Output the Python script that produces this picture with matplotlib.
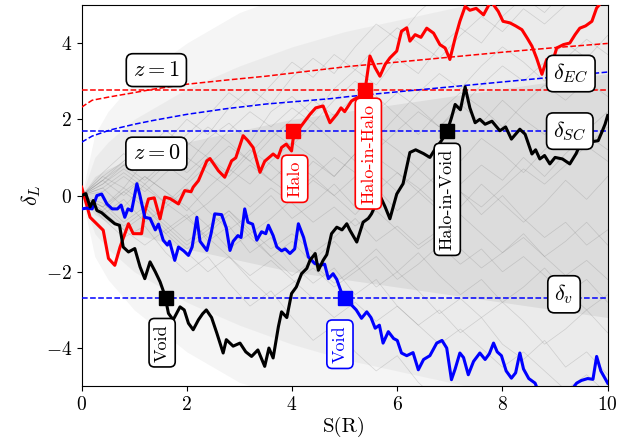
import numpy as np
import matplotlib.pyplot as plt

plt.rcParams['font.family'] = 'serif'
plt.rcParams['font.serif'] = ['cmr10', 'DejaVu Serif']
plt.rcParams['mathtext.fontset'] = 'cm'
plt.rcParams['axes.formatter.use_mathtext'] = True

# walk highlighted as "Halo" / "Halo-in-Halo"
s_red = [0.0, 0.16, 0.41, 0.51, 0.63, 0.73, 0.89, 0.98, 1.14, 1.2, 1.27, 1.38, 1.49, 1.58, 1.68,
         1.84, 1.96, 2.08, 2.12, 2.22, 2.38, 2.44, 2.6, 2.72, 2.85, 2.93, 3.07, 3.16, 3.26, 3.39,
         3.48, 3.64, 3.73, 3.8, 3.89, 3.99, 4.02, 4.15, 4.34, 4.45, 4.59, 4.72, 4.85, 4.93, 5.0,
         5.13, 5.24, 5.3, 5.39, 5.48, 5.58, 5.67, 5.77, 5.86, 5.99, 6.08, 6.18, 6.24, 6.34, 6.45,
         6.56, 6.69, 6.81, 6.91, 7.0, 7.1, 7.19, 7.29, 7.38, 7.5, 7.64, 7.78, 7.92, 8.01, 8.14,
         8.25, 8.37, 8.47, 8.56, 8.65, 8.71, 8.75, 8.84, 8.94, 9.03, 9.16, 9.28, 9.38, 9.47, 9.58,
         9.7, 9.79, 9.9, 10.0]
d_red = [0.22, -0.57, -0.91, -1.65, -1.83, -1.35, -0.74, -1.0, -1.0, -0.43, -0.09, -0.06, -0.61,
         -0.04, -0.08, -0.22, 0.13, 0.1, 0.22, 0.39, 0.91, 0.97, 0.65, 0.48, 0.91, 0.99, 1.57, 1.44,
         1.26, 0.61, 0.9, 1.09, 0.99, 1.26, 1.35, 1.17, 1.48, 1.78, 2.13, 2.3, 2.35, 1.91, 2.13,
         2.3, 2.2, 2.48, 2.57, 2.5, 2.79, 3.66, 3.35, 3.13, 3.44, 3.61, 3.79, 4.31, 4.4, 4.05, 4.22,
         4.15, 4.39, 4.26, 3.96, 3.87, 3.57, 4.13, 4.57, 4.96, 4.86, 4.91, 4.74, 5.1, 4.83, 4.57,
         4.53, 4.45, 4.35, 4.13, 3.92, 3.6, 3.35, 3.18, 3.57, 3.44, 3.87, 3.96, 4.0, 4.22, 4.39,
         4.45, 4.57, 4.92, 5.1, 5.2]

# walk highlighted as "Void" (black) / "Halo-in-Void"
s_black = [0.0, 0.08, 0.16, 0.22, 0.29, 0.38, 0.48, 0.63, 0.72, 0.79, 0.89, 1.01, 1.11, 1.2, 1.3,
           1.4, 1.49, 1.58, 1.65, 1.74, 1.87, 1.95, 2.03, 2.12, 2.22, 2.3, 2.37, 2.47, 2.57, 2.69,
           2.75, 2.88, 3.01, 3.12, 3.23, 3.35, 3.48, 3.56, 3.64, 3.74, 3.8, 3.9, 3.99, 4.08, 4.18,
           4.28, 4.34, 4.44, 4.5, 4.59, 4.66, 4.75, 4.85, 4.95, 5.04, 5.1, 5.23, 5.35, 5.45, 5.51,
           5.67, 5.77, 5.86, 5.99, 6.11, 6.24, 6.35, 6.5, 6.62, 6.72, 6.82, 6.94, 7.03, 7.1, 7.2,
           7.29, 7.38, 7.48, 7.57, 7.67, 7.8, 7.95, 8.06, 8.17, 8.33, 8.43, 8.56, 8.63, 8.71, 8.8,
           8.9, 9.0, 9.14, 9.28, 9.4, 9.51, 9.65, 9.82, 9.9, 9.95, 10.0]
d_black = [0.0, 0.05, -0.3, -0.13, -0.39, -0.45, -0.57, -0.74, -0.78, -1.35, -1.48, -1.39, -1.87,
           -2.18, -1.74, -2.0, -2.26, -2.61, -3.09, -3.26, -2.92, -3.0, -3.35, -3.52, -3.26, -3.1,
           -3.0, -3.2, -3.61, -4.13, -3.78, -3.95, -3.87, -4.1, -4.22, -4.05, -4.48, -4.0, -4.26,
           -3.44, -3.05, -3.2, -2.57, -2.4, -2.05, -1.91, -1.7, -1.52, -1.96, -1.7, -1.55, -1.0,
           -0.83, -0.9, -0.74, -0.91, -1.22, -0.7, -0.6, -0.48, 0.0, -0.3, -0.61, 0.04, 0.31, 1.13,
           1.2, 1.1, 1.0, 1.22, 1.4, 1.65, 2.04, 2.39, 2.25, 2.85, 2.3, 1.91, 2.0, 1.87, 1.95, 1.7,
           1.8, 1.48, 1.74, 1.61, 1.09, 1.2, 0.96, 1.05, 0.83, 1.0, 0.96, 0.83, 1.1, 1.44, 1.4,
           1.44, 1.7, 1.87, 2.1]

# walk highlighted as "Void" (blue)
s_blue = [0.0, 0.1, 0.2, 0.29, 0.38, 0.48, 0.58, 0.68, 0.75, 0.82, 0.88, 0.95, 1.05, 1.1, 1.2,
          1.3, 1.4, 1.46, 1.55, 1.63, 1.67, 1.77, 1.84, 1.94, 2.03, 2.1, 2.19, 2.25, 2.38, 2.46,
          2.53, 2.66, 2.75, 2.82, 2.88, 2.97, 3.03, 3.1, 3.16, 3.25, 3.33, 3.42, 3.5, 3.55, 3.64,
          3.71, 3.8, 3.87, 3.96, 4.05, 4.12, 4.22, 4.31, 4.43, 4.53, 4.62, 4.69, 4.78, 4.85, 4.94,
          5.0, 5.13, 5.22, 5.32, 5.42, 5.5, 5.58, 5.66, 5.73, 5.83, 5.93, 6.0, 6.08, 6.18, 6.3,
          6.4, 6.5, 6.62, 6.75, 6.85, 6.94, 7.03, 7.1, 7.19, 7.26, 7.35, 7.45, 7.57, 7.67, 7.75,
          7.83, 7.9, 7.98, 8.07, 8.17, 8.25, 8.33, 8.4, 8.5, 8.62, 8.7, 8.8, 9.0, 9.2, 9.41, 9.5,
          9.62, 9.72, 9.79, 9.87, 10.0]
d_blue = [-0.35, -0.33, -0.35, 0.0, 0.04, -0.22, -0.35, -0.35, -0.25, -0.57, -0.35, -0.4, 0.31,
          0.05, -0.57, -0.6, -0.9, -0.75, -1.17, -1.3, -1.2, -1.7, -1.35, -1.45, -1.57, -1.35,
          -0.57, -1.2, -1.44, -1.0, -0.48, -0.5, -0.85, -1.44, -1.2, -1.05, -1.1, -0.35, -0.7,
          -0.75, -1.17, -0.95, -1.0, -0.78, -1.05, -1.35, -1.45, -1.4, -1.52, -1.4, -0.74, -1.1,
          -1.61, -1.78, -1.83, -1.8, -2.18, -2.05, -2.2, -2.55, -2.72, -2.87, -3.0, -3.22, -3.05,
          -3.2, -3.48, -3.4, -3.87, -3.57, -3.75, -3.8, -4.13, -4.2, -4.12, -4.57, -4.3, -4.2,
          -3.87, -3.8, -4.0, -4.83, -4.55, -4.13, -4.25, -4.7, -4.35, -4.13, -4.3, -4.15, -3.87,
          -4.1, -4.2, -4.6, -4.79, -4.65, -4.13, -4.55, -4.8, -4.92, -5.2, -5.5, -5.6, -5.3,
          -4.92, -4.85, -4.8, -4.82, -4.22, -4.6, -4.92]

# background trajectories (coarse), S step 0.4
s_bg = np.arange(0, 10.01, 0.4)
bg_walks = [
    [0, 0.5, 0.2, 0.9, 1.3, 0.8, 1.5, 1.9, 1.4, 2.2, 2.6, 2.1, 2.8, 3.3, 2.9, 3.6, 3.2, 3.9, 4.4, 4.0, 4.7, 5.2, 4.8, 5.4, 5.6, 5.9],
    [0, -0.4, 0.1, -0.3, -0.9, -0.5, -1.2, -0.8, -1.5, -1.1, -1.8, -2.3, -1.9, -2.6, -2.2, -2.9, -3.4, -3.0, -3.6, -3.2, -3.9, -4.3, -3.8, -4.5, -4.1, -4.7],
    [0, 0.3, 0.8, 0.4, 0.9, 1.4, 1.0, 0.6, 1.2, 0.8, 0.3, 0.9, 0.5, 1.1, 1.6, 1.2, 0.7, 1.3, 0.9, 1.5, 1.1, 0.6, 1.2, 1.7, 1.3, 1.8],
    [0, -0.5, -0.1, -0.7, -0.3, 0.2, -0.4, -0.9, -0.5, 0.0, -0.6, -0.2, 0.3, -0.3, 0.2, -0.4, 0.1, 0.6, 0.1, -0.5, 0.0, -0.6, -1.1, -0.7, -1.3, -0.9],
    [0, 0.6, 1.1, 0.7, 1.4, 2.0, 1.6, 2.3, 2.8, 2.4, 3.1, 3.6, 3.2, 3.9, 4.5, 4.1, 4.8, 5.3, 5.1, 5.6, 5.9, 6.1, 6.3, 6.0, 6.4, 6.6],
    [0, -0.6, -1.1, -0.8, -1.5, -2.0, -1.6, -2.3, -2.9, -2.5, -3.2, -3.8, -3.4, -4.1, -4.6, -4.2, -4.9, -5.4, -5.1, -5.6, -5.9, -6.1, -5.8, -6.2, -6.5, -6.7],
    [0, 0.2, -0.3, 0.3, 0.8, 0.4, 1.0, 0.5, 1.1, 1.7, 1.3, 1.9, 1.4, 0.9, 1.5, 2.1, 1.6, 2.2, 2.7, 2.3, 1.8, 2.4, 2.9, 2.5, 3.0, 2.6],
    [0, -0.3, 0.2, -0.2, -0.7, -1.2, -0.8, -1.4, -1.0, -1.6, -2.1, -1.7, -1.2, -1.8, -2.4, -2.0, -1.5, -2.1, -2.6, -2.2, -2.8, -2.4, -1.9, -2.5, -3.0, -2.6],
    [0, 0.4, 0.0, 0.5, 0.1, -0.4, 0.2, 0.7, 0.3, 0.9, 1.4, 1.0, 0.5, 1.1, 0.6, 0.1, 0.7, 0.2, -0.3, 0.3, -0.2, -0.7, -0.2, 0.4, -0.1, 0.5],
    [0, -0.2, -0.7, -0.3, -0.8, -1.3, -0.9, -0.4, -1.0, -0.6, -0.1, 0.4, 0.0, -0.5, 0.1, 0.6, 0.2, -0.3, 0.3, 0.8, 0.4, 1.0, 0.5, 1.1, 1.6, 1.2],
    [0, 0.5, 0.9, 1.4, 1.0, 0.6, 1.1, 1.7, 2.2, 1.8, 2.3, 1.9, 2.5, 3.0, 2.6, 2.1, 2.7, 3.2, 2.8, 3.4, 3.9, 3.5, 3.0, 3.6, 4.1, 3.7],
    [0, -0.4, -0.9, -1.3, -0.9, -1.4, -1.0, -0.5, -1.1, -1.6, -1.2, -1.8, -2.3, -1.9, -1.4, -2.0, -2.5, -3.1, -2.7, -3.2, -2.8, -3.3, -3.9, -3.5, -3.0, -3.6],
    [0, 0.3, 0.7, 0.3, -0.2, 0.3, 0.8, 1.3, 0.9, 0.4, 0.0, 0.5, 1.0, 0.6, 1.2, 1.7, 2.2, 1.8, 2.3, 2.9, 3.4, 3.0, 3.5, 4.0, 3.6, 4.2],
    [0, -0.3, 0.1, 0.5, 0.1, -0.3, -0.8, -0.4, -0.9, -1.4, -1.0, -1.5, -1.1, -0.6, -1.2, -0.8, -1.3, -0.9, -1.4, -1.9, -1.5, -1.0, -1.6, -1.2, -0.7, -1.3],
    [0, 0.4, 0.8, 1.2, 1.7, 1.3, 1.8, 1.4, 0.9, 1.5, 2.0, 2.5, 2.1, 2.6, 2.2, 2.7, 2.3, 1.8, 2.4, 1.9, 2.5, 2.0, 1.6, 2.1, 1.7, 2.2],
    [0, -0.5, -0.9, -0.5, -1.0, -0.6, -1.1, -1.6, -2.1, -1.7, -2.2, -2.7, -3.2, -2.8, -3.3, -2.9, -3.4, -3.9, -3.5, -4.0, -4.5, -4.1, -4.6, -5.1, -4.7, -5.2],
    [0, 0.1, 0.5, 0.1, 0.6, 1.0, 0.6, 0.2, -0.3, 0.2, -0.2, -0.7, -0.3, -0.8, -0.4, -0.9, -1.4, -1.0, -0.5, -1.0, -1.5, -1.1, -1.6, -2.1, -1.7, -2.2],
    [0, 0.4, 0.9, 1.5, 1.1, 1.6, 2.1, 2.7, 2.3, 2.9, 3.5, 3.1, 3.7, 3.3, 3.9, 4.4, 4.0, 3.6, 4.2, 4.7, 4.3, 4.9, 4.5, 5.0, 5.4, 5.1],
    [0, -0.3, -0.8, -0.4, -1.0, -1.5, -2.0, -1.6, -2.2, -2.7, -2.3, -1.9, -2.4, -2.0, -1.6, -2.2, -1.8, -1.3, -1.8, -1.4, -2.0, -1.6, -2.1, -2.6, -2.2, -2.8],
    [0, 0.2, 0.6, 0.2, -0.2, -0.6, -0.2, 0.3, 0.8, 0.4, 0.9, 0.5, 0.0, 0.5, 1.0, 0.6, 0.1, -0.4, 0.1, -0.3, 0.2, 0.7, 0.3, 0.8, 1.3, 0.9],
]

# extent of the grey cloud (outer, middle, inner)
s_env = [0, 0.25, 0.5, 1, 2, 3, 4, 5, 6, 7, 8, 9, 10]
env_hi = [
    [0, 1.6, 2.2, 3.0, 4.0, 4.8, 5.3, 5.5, 5.5, 5.5, 5.5, 5.5, 5.5],
    [0, 1.0, 1.4, 2.0, 2.8, 3.4, 3.9, 4.3, 4.6, 4.9, 5.2, 5.4, 5.5],
    [0, 0.5, 0.7, 1.0, 1.4, 1.7, 2.0, 2.2, 2.4, 2.6, 2.8, 3.0, 3.2],
]
env_lo = [
    [0, -1.6, -2.2, -3.0, -4.1, -4.9, -5.3, -5.5, -5.5, -5.5, -5.5, -5.5, -5.5],
    [0, -1.0, -1.4, -2.0, -2.8, -3.4, -3.9, -4.3, -4.6, -4.9, -5.2, -5.4, -5.5],
    [0, -0.5, -0.7, -1.0, -1.4, -1.7, -2.0, -2.2, -2.4, -2.6, -2.8, -3.0, -3.2],
]
env_alpha = [0.07, 0.07, 0.12]

# barriers
delta_c1 = 2.76
delta_sc = 1.686
delta_v = -2.7
s_ec = [0.0, 0.2, 0.54, 1.0, 1.36, 2.0, 2.76, 3.5, 4.72, 5.1, 6.0, 7.0, 8.0, 9.0, 10.0]
ec_z1 = [2.32, 2.5, 2.59, 2.7, 2.79, 2.92, 3.03, 3.13, 3.33, 3.39, 3.5, 3.63, 3.76, 3.88, 3.99]
ec_z0 = [1.40, 1.56, 1.72, 1.87, 1.97, 2.13, 2.28, 2.4, 2.54, 2.6, 2.72, 2.85, 2.98, 3.11, 3.24]

fig = plt.figure(figsize=(6.33, 4.48), dpi=100)
ax = fig.add_axes([0.129, 0.138, 0.831, 0.851])

for hi, lo, a in zip(env_hi, env_lo, env_alpha):
    ax.fill_between(s_env, lo, hi, color='0.45', alpha=a, lw=0, zorder=1)
for w in bg_walks:
    ax.plot(s_bg, w, color='0.45', lw=0.5, alpha=0.25, zorder=2)

ax.axhline(delta_c1, color='red', ls='--', lw=1.1, zorder=3)
ax.axhline(delta_sc, color='blue', ls='--', lw=1.1, zorder=3)
ax.axhline(delta_v, color='blue', ls='--', lw=1.1, zorder=3)
ax.plot(s_ec, ec_z1, color='red', ls='--', lw=1.1, zorder=3)
ax.plot(s_ec, ec_z0, color='blue', ls='--', lw=1.1, zorder=3)

ax.plot(s_red, d_red, color='red', lw=2.2, zorder=5)
ax.plot(s_blue, d_blue, color='blue', lw=2.2, zorder=5)
ax.plot(s_black, d_black, color='black', lw=2.2, zorder=5)

# first crossings
ax.plot(4.02, delta_sc, 's', color='red', ms=10, zorder=6)
ax.plot(5.39, delta_c1, 's', color='red', ms=10, zorder=6)
ax.plot(1.6, delta_v, 's', color='black', ms=10, zorder=6)
ax.plot(6.95, delta_sc, 's', color='black', ms=10, zorder=6)
ax.plot(5.0, delta_v, 's', color='blue', ms=10, zorder=6)

def box(x, y, txt, col='black', rot=0, fs=16):
    ax.text(x, y, txt, color=col, rotation=rot, fontsize=fs, ha='center', va='center', zorder=7,
            bbox=dict(boxstyle='round,pad=0.3', fc='white', ec=col, lw=1.2))

box(1.42, 3.29, r'$z=1$')
box(1.42, 1.1, r'$z=0$')
box(9.3, 3.2, r'$\delta_{EC}$')
box(9.28, 1.69, r'$\delta_{SC}$')
box(9.17, -2.59, r'$\delta_{v}$')
box(4.05, 0.44, 'Halo', 'red', 90, 13)
box(5.45, 1.1, 'Halo-in-Halo', 'red', 90, 13)
box(6.95, -0.1, 'Halo-in-Void', 'black', 90, 13)
box(1.53, -3.86, 'Void', 'black', 90, 13)
box(4.91, -3.9, 'Void', 'blue', 90, 13)

ax.set_xlim(0, 10)
ax.set_ylim(-5, 5)
ax.set_xticks([0, 2, 4, 6, 8, 10])
ax.set_yticks([-4, -2, 0, 2, 4])
ax.tick_params(labelsize=14, direction='out')
ax.set_xlabel('S(R)', fontsize=15, labelpad=2)
ax.set_ylabel(r'$\delta_L$', fontsize=16, labelpad=2)

fig.savefig('out.png', dpi=100)
